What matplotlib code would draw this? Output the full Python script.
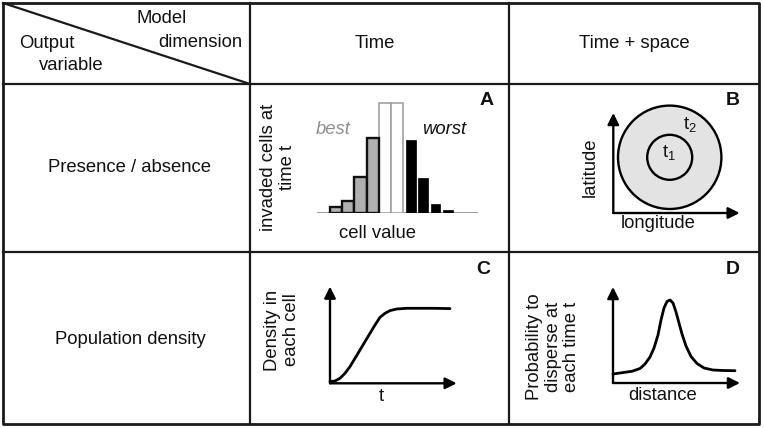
import numpy as np
import matplotlib
matplotlib.use("Agg")
import matplotlib.pyplot as plt
from matplotlib.patches import Circle

plt.rcParams['font.family'] = ['Liberation Sans', 'DejaVu Sans']
plt.rcParams['mathtext.fontset'] = 'custom'
plt.rcParams['mathtext.rm'] = 'Liberation Sans'
plt.rcParams['mathtext.it'] = 'Liberation Sans:italic'

# ---------------- data ----------------
col_headers = ["Time", "Time + space"]
row_headers = ["Presence / absence", "Population density"]

# Panel A: histogram of invaded cells by cell value
best_vals = [6, 12, 36, 75]
mid_vals = [110, 110]
worst_vals = [73, 35, 9, 3]

# Panel B: spread rings at t1 and t2
ring_labels = ["t$_{2}$", "t$_{1}$"]
ring_radii = [51.7, 22.5]

# Panel C: logistic-like density over time
c_time = [0, 5, 10, 15, 20, 25, 30, 35, 40, 45, 50, 55, 60, 66.7, 76.7, 90, 103.3, 120]
c_density = [1.7, 2.3, 5, 10, 16.7, 25, 33.3, 41.7, 50, 58.3, 66, 70, 72.7, 74.3, 75, 75, 75, 74.7]

# Panel D: dispersal kernel over distance
d_distance = [0, 9, 19, 27, 32, 37, 41, 45, 48, 51, 54, 57, 60, 63, 66, 69, 73, 78, 84, 91, 100, 110, 122]
d_prob = [9, 10.3, 11.7, 14.5, 19, 26, 35, 48, 63, 75, 81.5, 83, 80, 71, 60, 49, 37, 26.5, 19.5, 15, 13, 12.5, 12.3]

# ---------------- figure ----------------
W, H = 764, 428
fig = plt.figure(figsize=(W / 100, H / 100), dpi=100)
ax0 = fig.add_axes([0, 0, 1, 1])
ax0.set_xlim(0, W)
ax0.set_ylim(H, 0)
ax0.axis('off')

FS = 13.3
TC = '#111111'
LC = '#1a1a1a'

# table grid
x_left, x_c1, x_c2, x_right = 3, 250, 508.5, 759
y_top, y_r1, y_r2, y_bot = 3, 84, 252, 424
ax0.plot([x_left, x_right, x_right, x_left, x_left], [y_top, y_top, y_bot, y_bot, y_top], color=LC, lw=2)
for xv in (x_c1, x_c2):
    ax0.plot([xv, xv], [y_top, y_bot], color=LC, lw=1.6)
for yv in (y_r1, y_r2):
    ax0.plot([x_left, x_right], [yv, yv], color=LC, lw=1.6)
ax0.plot([x_left, x_c1], [y_top, y_r1], color=LC, lw=1.6)

# header texts
ax0.text(161.7, 18, "Model", ha='center', va='center', fontsize=FS, color=TC)
ax0.text(200, 42, "dimension", ha='center', va='center', fontsize=FS, color=TC)
ax0.text(46.7, 43, "Output", ha='center', va='center', fontsize=FS, color=TC)
ax0.text(71, 65, "variable", ha='center', va='center', fontsize=FS, color=TC)
ax0.text(375, 43, col_headers[0], ha='center', va='center', fontsize=FS, color=TC)
ax0.text(634, 43, col_headers[1], ha='center', va='center', fontsize=FS, color=TC)
ax0.text(130, 167, row_headers[0], ha='center', va='center', fontsize=FS, color=TC)
ax0.text(130, 340, row_headers[1], ha='center', va='center', fontsize=FS, color=TC)

# panel letters
for lab, (lx, ly) in zip("ABCD", [(486.7, 100), (733, 100), (483.3, 270), (733, 270)]):
    ax0.text(lx, ly, lab, ha='center', va='center', fontsize=FS + 0.7, fontweight='bold', color=TC)


def px_axes(left, bottom, width, height):
    ax = fig.add_axes([left / W, (H - bottom) / H, width / W, height / H])
    ax.set_xlim(0, width)
    ax.set_ylim(0, height)
    ax.axis('off')
    return ax


def arrow_axes(ax, w, h):
    kw = dict(arrowstyle='-|>', color='black', lw=1.7, mutation_scale=17, shrinkA=0, shrinkB=0)
    ax.annotate('', xy=(w, 0), xytext=(0, 0), arrowprops=kw, annotation_clip=False)
    ax.annotate('', xy=(0, h), xytext=(0, 0), arrowprops=kw, annotation_clip=False)


# ---------------- Panel A ----------------
step = 12.3
a_left, a_right, a_bottom, a_top = 317, 478, 213, 100
axA = fig.add_axes([a_left / W, (H - a_bottom) / H, (a_right - a_left) / W, (a_bottom - a_top) / H])
x0_center = 335.8
axA.set_xlim(-(x0_center - a_left) / step, (a_right - x0_center) / step)
axA.set_ylim(0, a_bottom - a_top)
axA.axis('off')
nb, nm, nw = len(best_vals), len(mid_vals), len(worst_vals)
xb = np.arange(nb)
xm = np.arange(nb, nb + nm)
xw = np.arange(nb + nm, nb + nm + nw) + 0.1
axA.axhline(0, color='#8c8c8c', lw=1.2, zorder=1)
axA.bar(xb, best_vals, width=1.0, color='#b0b0b0', edgecolor='#111111', linewidth=1.7, zorder=3)
axA.bar(xm, mid_vals, width=1.0, color='white', edgecolor='#9a9a9a', linewidth=1.1, zorder=2)
axA.bar(xw, worst_vals, width=0.8, color='black', edgecolor='black', linewidth=0.5, zorder=3)
ax0.text(333.3, 130, "best", ha='center', va='center', fontsize=FS, style='italic', color='#8f8f8f')
ax0.text(444, 130, "worst", ha='center', va='center', fontsize=FS, style='italic', color=TC)
ax0.text(278, 167, "invaded cells at\ntime t", ha='center', va='center', rotation=90,
         fontsize=FS, color=TC, linespacing=1.1)
ax0.text(377.5, 233, "cell value", ha='center', va='center', fontsize=FS, color=TC)

# ---------------- Panel B ----------------
b_ox, b_oy, b_w, b_h = 613.3, 213, 126.4, 100
axB = px_axes(b_ox, b_oy, b_w, b_h)
b_center = (669.7 - b_ox, b_oy - 157.3)
for r in ring_radii:
    axB.add_patch(Circle(b_center, r, facecolor='#e3e3e3', edgecolor='black', lw=1.7,
                         zorder=2, clip_on=False))
arrow_axes(axB, b_w, b_h)
axB.text(690, 124, ring_labels[0], ha='center', va='center', fontsize=FS, color=TC,
         transform=ax0.transData, zorder=6, clip_on=False)
axB.text(669, 152, ring_labels[1], ha='center', va='center', fontsize=FS, color=TC,
         transform=ax0.transData, zorder=6, clip_on=False)
ax0.text(590, 167, "latitude", ha='center', va='center', rotation=90, fontsize=FS, color=TC)
ax0.text(658, 223, "longitude", ha='center', va='center', fontsize=FS, color=TC)

# ---------------- Panel C ----------------
c_ox, c_oy = 330, 383.3
axC = px_axes(c_ox, c_oy, 126.7, 96.7)
axC.plot(c_time, c_density, color='black', lw=2, solid_capstyle='round', solid_joinstyle='round',
         clip_on=False)
arrow_axes(axC, 126.7, 96.7)
ax0.text(381.7, 396.5, "t", ha='center', va='center', fontsize=FS, color=TC)
ax0.text(282, 330, "Density in\neach cell", ha='center', va='center', rotation=90,
         fontsize=FS, color=TC, linespacing=1.1)

# ---------------- Panel D ----------------
d_ox, d_oy = 613, 383
axD = px_axes(d_ox, d_oy, 127, 96)
axD.plot(d_distance, d_prob, color='black', lw=2, solid_capstyle='round', solid_joinstyle='round',
         clip_on=False)
arrow_axes(axD, 127, 96)
ax0.text(663, 395, "distance", ha='center', va='center', fontsize=FS, color=TC)
ax0.text(553, 346.7, "Probability to\ndisperse at\neach time t", ha='center', va='center',
         rotation=90, fontsize=FS, color=TC, linespacing=1.1)

fig.savefig("out.png", dpi=100)
